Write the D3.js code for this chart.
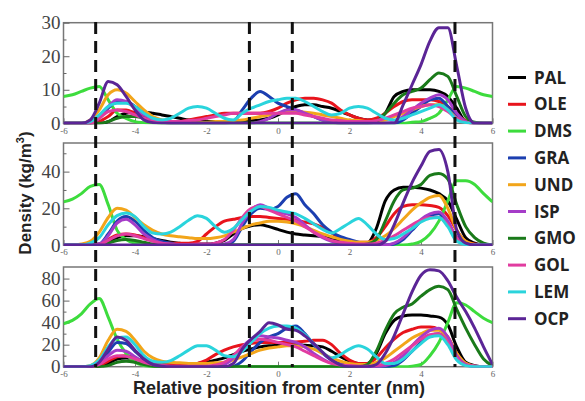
<!DOCTYPE html>
<html>
<head>
<meta charset="utf-8">
<script src="https://cdn.jsdelivr.net/npm/d3@7"></script>
<style>
  body { margin: 0; background: #fff; }
  svg { display: block; }
</style>
</head>
<body>
<div id="chart"></div>
<script>
// position along the membrane normal (nm), 0.25 nm steps
const positions = [-6,-5.75,-5.5,-5.25, -5,-4.75,-4.5,-4.25, -4,-3.75,-3.5,-3.25, -3,-2.75,-2.5,-2.25,
  -2,-1.75,-1.5,-1.25, -1,-0.75,-0.5,-0.25, 0,0.25,0.5,0.75, 1,1.25,1.5,1.75, 2,2.25,2.5,2.75,
  3,3.25,3.5,3.75, 4,4.25,4.5,4.75, 5,5.25,5.5,5.75, 6];

const lipids = ['PAL', 'OLE', 'DMS', 'GRA', 'UND', 'ISP', 'GMO', 'GOL', 'LEM', 'OCP'];
const boundaries = [-5.1, -0.8, 0.4, 4.95];

// top panel
const topPAL = [0,0,0,0, 0,0.5,2,3, 3.3,3.3,3,2.5, 2,1.5,1,0.8, 0.5,0.5,0.5,0.5, 0.5,0.8,1,1.5, 2.5,4,5,5.5, 5.5,5,4.5,3.5, 2.5,1.5,1,1, 3,8,9.5,10, 10,10,9.5,8, 4.5,0.5,0,0, 0];
const topOLE = [0,0,0,0, 0.5,2,4,4, 3,2,1,0.5, 0.3,0.5,1,1.5, 2,2.5,3,3, 3,3,3,3.5, 4.5,6,7,7.5, 7.5,7,6,4, 2.5,1.5,1,1.5, 3,5,6.5,7, 7,7,6.5,5, 2.5,0.8,0.2,0, 0];
const topDMS = [8,8.5,9.5,10.5, 11,7,3,1.5, 0.5,0.2,0,0, 0,0,0,0, 0,0,0,0, 0,0,0,0, 0,0,0,0, 0,0,0,0, 0,0,0,0, 0,0,0,0.3, 0.5,1.5,3,7, 11,10.5,9.5,8.5, 8];
const topGRA = [0,0,0,0, 1.5,4.5,6.5,6.5, 5,3,1.5,0.5, 0,0,0,0, 0,0,0,0.5, 4,7.5,9.5,8, 6,5,4,3, 2,1,0.5,0, 0,0,0,0, 0,0,1,3, 5,7,7.5,5, 2,0.5,0,0, 0];
const topUND = [0,0,0,1, 4,8.5,10,9, 6.5,4,2,1, 0.5,0.3,0.2,0.2, 0.3,0.5,0.5,0.8, 1,1.5,2,2.5, 3,3.3,3.5,3.3, 3,2.5,2,1.5, 1,0.8,0.5,0.6, 1,2,3,4, 5,5.5,5.5,4, 1.5,0.3,0,0, 0];
const topISP = [0,0,0,0, 2,5,7,6.5, 4.5,2.5,1,0.3, 0,0,0,0, 0,0,0,0, 0,0,0.5,1.5, 3,4,4,3, 2,1,0.3,0, 0,0,0,0, 0,0.5,2,4, 6,7.5,8.5,7, 3,0.5,0,0, 0];
const topGMO = [0,0,0,0, 0,0.5,1.5,2, 2,1.5,0.5,0, 0,0,0,0, 0,0,0,0, 0,0,0,0, 0,0,0,0, 0,0,0,0, 0,0,0,0.5, 3,6,8.5,9.5, 10.5,13,15,14, 8,2,0.3,0, 0];
const topGOL = [0,0,0,0, 1.5,3.5,4,3.5, 2.5,1.5,0.8,0.5, 0.5,0.5,0.8,1, 1.5,2,2.5,3, 3,3,3,3, 3,3,3,2.5, 2,1.5,1,0.8, 0.5,0.5,0.5,0.8, 1.5,2.5,3.5,4.5, 5,5.5,5,3.5, 1.5,0.3,0,0, 0];
const topLEM = [0,0,0,0.5, 2.5,5,6,6, 5,3,1.5,1, 1.5,3,4.5,5, 4.5,3,1.5,1, 3,4.5,5.5,6.5, 7,7.5,7.5,6.5, 5,3.5,2.5,3, 4.5,5,4.5,3, 1.5,1,1.5,2.5, 3.5,4.5,5.5,4, 1,0.2,0,0, 0];
const topOCP = [0,0,0,1, 6,12.5,11.5,8, 4,1,0.2,0, 0,0,0,0, 0,0,0,0, 0,0,0,0, 0,0,0,0, 0,0,0,0, 0,0,0,0, 0,0,5.5,11.5, 17.5,24.5,28.5,28.5, 17,4.5,0,0, 0];

// middle panel
const midPAL = [0,0,0,0, 0,1.5,4,5, 5,4.5,3.5,2.5, 1.5,1,0.5,0.5, 0.5,1,2.5,6, 9,10.5,11,10, 8.5,7,6,5.5, 5,4.5,3.5,2, 1,0.5,1,9, 24,30,31.5,31.5, 31,30,28,24, 14,4,1,0, 0];
const midOLE = [0,0,0,0, 0.5,3,5.5,6, 5.5,4,2.5,1.5, 1,1,1,2, 6,10,13,14, 15,15.5,15.5,15, 14.5,14,13.5,12.5, 11.5,9.5,6.5,3.5, 2,1.5,1.5,4, 10,17,21,22, 22,21.5,20.5,16, 8,2,0.5,0, 0];
const midDMS = [23.5,25,28,32, 33,22,8,3, 1,0.5,0,0, 0,0,0,0, 0,0,0,0, 0,0,0,0, 0,0,0,0, 0,0,0,0, 0,0,0,0, 0,0,0,0.5, 2,6,13,24, 35,35,33,28, 23.5];
const midGRA = [0,0,0,0, 0.5,6,13,15.5, 13,8,4,2, 1,0,0,0, 0,0,0,2, 10,17,20,19.5, 21,26,28,22, 17,11,7,4.5, 3,1.5,0.5,0, 0,0.5,3,8, 13,16,17,12, 4,0.8,0,0, 0];
const midUND = [0,0,0.5,2, 7,15,20,19, 15,11,8,6, 5,4.5,4,3.5, 3.5,4,5,7, 9,11,12,13, 13,12.5,11.5,10, 8,6,4.5,3, 2,1.5,1.5,2.5, 5,9,14,19, 23,26,27,20, 8,2,0.3,0, 0];
const midISP = [0,0,0,0, 0.5,5,12,14, 11,6,3,1, 0.3,0,0,0, 0,0,0.5,3, 12,19,22,20, 18,17,15,11, 7,4,2,1, 0.5,0,0,0, 0,1,4,9, 14,17,18,13, 4,0.5,0,0, 0];
const midGMO = [0,0,0,0, 0,1,2.5,3, 2.5,1.5,0.5,0, 0,0,0,0, 0,0,0,0, 0,0,0,0, 0,0,0,0, 0,0,0,0, 0,0,0.5,3, 13,24,30,31, 33,38,39,36, 22,10,4,1, 0];
const midGOL = [0,0,0,0, 0.3,2.5,5,6, 5,3.5,2,1, 0.5,0.3,0.3,0.5, 0.5,1,3,8, 15,20,21,19, 17,15,13,10, 7,4.5,2.5,1.5, 1,0.5,0.5,1, 2.5,5,8,11, 13.5,15,15,11, 4,0.8,0,0, 0];
const midLEM = [0,0,0,1, 4,11,16,17.5, 15.5,10,6.5,6, 7,10,13.5,16, 14.5,10,7,9, 14,18.5,21,20.5, 19,18,17,14.5, 11.5,8.5,6.5,9, 12,14.5,11,6, 3,3.5,6,9, 12.5,14.5,15,10, 2,0.3,0,0, 0];
const midOCP = [0,0,0,0, 0,0,0,0, 0,0,0,0, 0,0,0,0, 0,0,0,0, 0,0,0,0, 0,0,0,0, 0,0,0,0, 0,0,0,0, 2,11,23,34, 43,51,52,40, 8,1,0,0, 0];

// bottom panel
const botPAL = [0,0,0,0, 0.5,3,7,8, 7,5,3,2, 1.5,1.5,2,3, 4,6,8,11, 14,16,18,19, 19.5,20,20,19.5, 19,18,14,9, 5,3,3,12, 30,42,46,47, 47,46,45,38, 18,4,1,0, 0];
const botOLE = [0,0,0,0, 1,5,9,10, 8,5,3,2, 1.5,1.5,2,3, 6,11,15,18, 20,21,22,22, 22,22,22.5,23, 24,24,20,12, 6,3,3,8, 17,25,31,34, 36,36,34,27, 12,3,0.5,0, 0];
const botDMS = [39,42,48,57, 62,45,25,12, 4,1,0,0, 0,0,0,0, 0,0,0,0, 0,0,0,0, 0,0,0,0, 0,0,0,0, 0,0,0,0, 0,0,0,0.5, 2,10,22,40, 58,56,50,44, 40];
const botGRA = [0,0,0,0, 3,13,22,21, 14,7,2.5,1, 0,0,0,0, 0,0,0,0.5, 5,14,22,27, 30,35,37,30, 20,12,6,2.5, 1,0.5,0,0, 0,1,6,14, 22,28,30,22, 9,2,0.5,0, 0];
const botUND = [0,0,0,1, 8,24,34,32, 24,14,8,5, 4,3.5,3,3, 3,3.5,4,6, 9,12,15,17, 18,19,19,18, 16,12,8,5, 3,2,2,4, 8,14,20,26, 30,33,33,26, 12,3,0.5,0, 0];
const botISP = [0,0,0,0, 3,10,15,14, 9,4,1.5,0.5, 0,0,0,0, 0,0.5,2,8, 18,25,28,27, 26,24,22,18, 12,7,3,1, 0.5,0,0,0, 1,4,10,19, 27,33,35,27, 10,2,0.3,0, 0];
const botGMO = [0,0,0,0, 0,1,4,5, 4,2,0.5,0, 0,0,0,0, 0,0,0,0, 0,0,0,0, 0,0,0,0, 0,0,0,0, 0,0,2,14, 33,48,54,57, 64,70,73,70, 52,35,20,7, 1];
const botGOL = [0,0,0,0, 2,7,10,9.5, 7,4,2,1, 0.5,0.3,0.3,0.3, 0.5,1.5,4,10, 18,23,25,24, 22,20,18,14, 10,6,3,1.5, 1,0.5,0.5,1, 3,7,13,19, 25,29,30,22, 8,1.5,0.3,0, 0];
const botLEM = [0,0,0,1, 6,18,26,27, 20,10,5,4, 5.5,10,15,19, 19,15,10,9, 14,22,30,35, 37,37,35,29, 21,13,8,11, 16,19,16,9, 3,3,7,14, 21,27,28,20, 6,1,0,0, 0];
const botOCP = [0,0,0,0, 4,16,27,24, 15,7,2,0.5, 0,0,0,0, 0,0,0,3, 16,25,32,40, 38,34,33,28, 21,13,6,1.5, 0,0,0,2, 12,28,48,68, 83,88,87,78, 63,50,35,18, 2];

const topTicks = [0, 10, 20, 30];
const midTicks = [0, 20, 40];
const botTicks = [0, 20, 40, 60, 80];
const xTicks = [-6, -4, -2, 0, 2, 4, 6];

const colors = {
    PAL: '#000000', OLE: '#e8141c', DMS: '#3ddc3d', GRA: '#1c3fb0', UND: '#f2a51a',
    ISP: '#a53cc8', GMO: '#1a7a1a', GOL: '#e13ca0', LEM: '#2ad4dc', OCP: '#5b2596'
};

const panels = [
    {series: [topPAL, topOLE, topDMS, topGRA, topUND, topISP, topGMO, topGOL, topLEM, topOCP], max: 30, top: 22.7, bottom: 123.3, ticks: topTicks, minor: [5, 15, 25]},
    {series: [midPAL, midOLE, midDMS, midGRA, midUND, midISP, midGMO, midGOL, midLEM, midOCP], max: 55.6, top: 143, bottom: 245, ticks: midTicks, minor: [10, 30, 50]},
    {series: [botPAL, botOLE, botDMS, botGRA, botUND, botISP, botGMO, botGOL, botLEM, botOCP], max: 90.5, top: 267, bottom: 366.7, ticks: botTicks, minor: [10, 30, 50, 70]}
];

panels.forEach((p) => p.series.forEach((s) => {
    if (s.length !== positions.length) throw new Error('bad series length ' + s.length);
}));

const width = 585;
const height = 401;
const left = 63.5;
const right = 492.5;

const svg = d3.select('#chart').append('svg').attr('width', width).attr('height', height);

const x = d3.scaleLinear().domain([-6, 6]).range([left, right]);

panels.forEach((p, pi) => {
    const y = d3.scaleLinear().domain([0, p.max]).range([p.bottom, p.top]);
    const g = svg.append('g');

    g.append('clipPath').attr('id', 'clip' + pi).append('rect')
        .attr('x', left).attr('y', p.top - 2).attr('width', right - left).attr('height', p.bottom - p.top + 3);

    // frame
    g.append('rect').attr('x', left).attr('y', p.top).attr('width', right - left).attr('height', p.bottom - p.top)
        .attr('fill', 'none').attr('stroke', '#777').attr('stroke-width', 1.5);

    // y axis, ticks pointing inward
    g.append('g').attr('transform', `translate(${left},0)`)
        .call(d3.axisLeft(y).tickValues(p.ticks).tickSize(-6).tickPadding(3).tickFormat(d3.format('d')))
        .call((a) => a.select('.domain').remove())
        .call((a) => a.selectAll('line').attr('stroke', '#666'))
        .call((a) => a.selectAll('text').attr('font-family', '"Liberation Serif", serif').attr('font-size', 19).attr('fill', '#444'));
    g.append('g').attr('transform', `translate(${left},0)`)
        .call(d3.axisLeft(y).tickValues(p.minor).tickSize(-3).tickFormat(''))
        .call((a) => a.select('.domain').remove())
        .call((a) => a.selectAll('line').attr('stroke', '#666'));

    // x axis
    g.append('g').attr('transform', `translate(0,${p.bottom})`)
        .call(d3.axisBottom(x).tickValues(xTicks).tickSize(-5).tickPadding(4).tickFormat((d) => d))
        .call((a) => a.select('.domain').remove())
        .call((a) => a.selectAll('line').attr('stroke', '#777'))
        .call((a) => a.selectAll('text').attr('font-family', '"Liberation Serif", serif').attr('font-size', 9).attr('fill', '#666'));

    const line = d3.line().x((d, i) => x(positions[i])).y((d) => y(d)).curve(d3.curveMonotoneX);

    g.append('g').attr('clip-path', `url(#clip${pi})`)
        .selectAll('path').data(p.series).join('path')
        .attr('d', (s) => line(s))
        .attr('fill', 'none')
        .attr('stroke', (s, i) => colors[lipids[i]])
        .attr('stroke-width', 3)
        .attr('stroke-linejoin', 'round');
});

// dashed boundaries across all panels
svg.append('g').selectAll('line').data(boundaries).join('line')
    .attr('x1', (d) => x(d)).attr('x2', (d) => x(d))
    .attr('y1', 22).attr('y2', 367)
    .attr('stroke', '#111').attr('stroke-width', 3).attr('stroke-dasharray', '12,7');

// legend
const legend = svg.append('g').selectAll('g').data(lipids).join('g')
    .attr('transform', (d, i) => `translate(508,${77.5 + i * 26.8})`);
legend.append('line').attr('x1', 0).attr('x2', 18).attr('y1', 0).attr('y2', 0)
    .attr('stroke', (d) => colors[d]).attr('stroke-width', 3);
legend.append('text').attr('x', 26).attr('y', 0).attr('dy', '0.36em')
    .attr('font-family', '"Open Sans", sans-serif').attr('font-weight', 'bold').attr('font-size', 17)
    .attr('fill', '#222').text((d) => d);

// axis titles
const ylab = svg.append('text').attr('transform', 'translate(31,193) rotate(-90)')
    .attr('text-anchor', 'middle').attr('font-family', '"Liberation Sans", Arial, sans-serif')
    .attr('font-weight', 'bold').attr('font-size', 17).attr('fill', '#222');
ylab.append('tspan').text('Density (kg/m');
ylab.append('tspan').attr('font-size', 11).attr('dy', -7).text('3');
ylab.append('tspan').attr('dy', 7).text(')');

svg.append('text').attr('x', 279).attr('y', 394).attr('text-anchor', 'middle')
    .attr('font-family', '"Liberation Sans", Arial, sans-serif').attr('font-weight', 'bold')
    .attr('font-size', 18).attr('fill', '#222')
    .text('Relative position from center (nm)');
</script>
</body>
</html>
